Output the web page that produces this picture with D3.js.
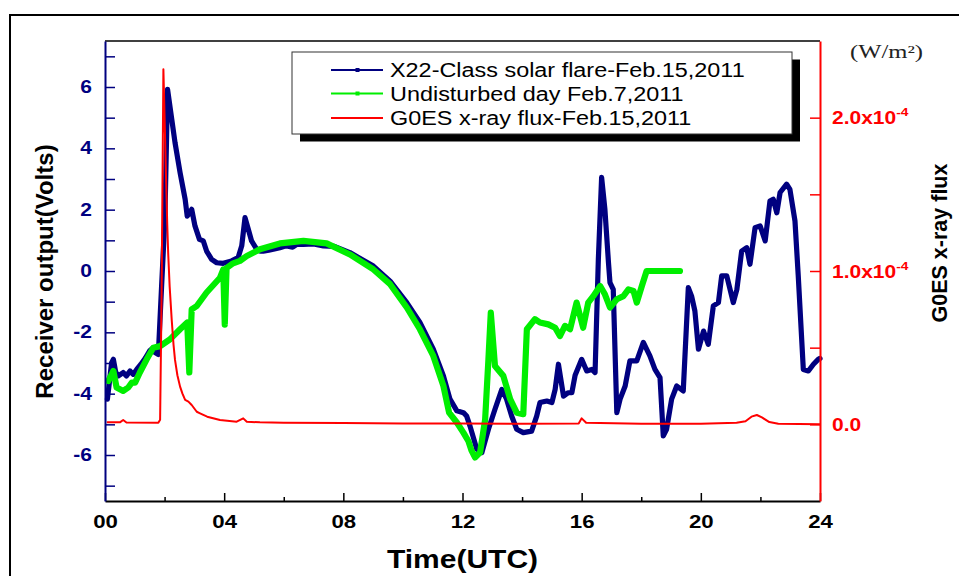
<!DOCTYPE html>
<html>
<head>
<meta charset="utf-8">
<script src="https://cdn.jsdelivr.net/npm/d3@7/dist/d3.min.js"></script>
<style>
  html, body { margin: 0; padding: 0; background: #fff; }
  svg { display: block; }
</style>
</head>
<body>
<svg id="chart" width="959" height="576"></svg>
<script>
// ---------------- DATA ----------------
const blueHours = [0.08,0.15,0.22,0.28,0.36,0.45,0.61,0.72,0.84,0.95,1.07,1.2,1.35,1.5,1.62,1.68,1.79,1.9,2.01,2.1,2.24,2.35,2.52,2.69,2.76,2.91,3.02,3.17,3.30,3.41,3.58,3.75,3.97,4.25,4.47,4.59,4.70,4.81,4.92,5.09,5.2,5.31,5.5,5.65,5.87,6.0,6.1,6.3,6.44,6.66,7.0,7.33,7.7,8.22,9.01,9.57,10.13,10.57,11.02,11.36,11.58,11.81,12.03,12.14,12.25,12.48,12.65,12.87,13.09,13.32,13.48,13.65,13.82,14.04,14.32,14.49,14.60,14.83,15.00,15.11,15.22,15.39,15.55,15.67,15.78,16.00,16.17,16.34,16.45,16.56,16.67,16.78,16.90,16.95,17.06,17.18,17.29,17.46,17.62,17.85,18.07,18.29,18.46,18.63,18.74,18.85,19.02,19.19,19.41,19.58,19.69,19.80,19.92,20.09,20.25,20.42,20.59,20.70,20.87,21.09,21.21,21.37,21.54,21.65,21.82,21.99,22.16,22.32,22.43,22.55,22.66,22.88,22.99,23.16,23.27,23.44,23.61,23.78,23.94,24.0];
const blueVolts = [-4.18,-3.6,-3.0,-2.88,-3.3,-3.42,-3.31,-3.42,-3.26,-3.37,-3.2,-3.05,-2.85,-2.6,-2.5,-2.66,-2.72,-0.49,1.69,5.92,4.95,4.19,3.21,2.34,1.79,2.01,1.47,1.03,0.98,0.65,0.38,0.27,0.25,0.33,0.44,0.82,1.74,1.36,0.98,0.71,0.65,0.65,0.68,0.71,0.76,0.8,0.82,0.78,0.87,0.87,0.88,0.82,0.8,0.6,0.16,-0.33,-1.03,-1.68,-2.55,-3.42,-4.18,-4.56,-4.62,-4.73,-5.05,-5.81,-5.92,-5.16,-4.51,-3.86,-4.18,-4.73,-5.16,-5.27,-5.22,-4.73,-4.29,-4.24,-4.29,-3.86,-3.04,-4.08,-3.97,-3.97,-3.40,-2.88,-3.26,-3.21,-3.31,0.38,3.05,2.01,0.27,-0.38,-0.6,-4.62,-4.18,-3.75,-2.93,-2.93,-2.33,-2.77,-3.21,-3.48,-5.38,-5.16,-4.18,-3.75,-3.91,-0.54,-0.82,-1.30,-2.55,-1.96,-2.39,-1.14,-1.03,-0.16,-0.16,-1.03,-0.6,0.65,0.76,0.22,1.41,1.47,0.98,2.28,2.34,1.90,2.56,2.83,2.66,1.63,-0.16,-3.21,-3.26,-3.04,-2.88,-2.85];

const greenHours = [0.11,0.28,0.39,0.61,0.78,0.9,1.01,1.17,1.4,1.62,1.85,2.18,2.52,2.76,2.83,2.91,3.08,3.41,3.86,3.97,4.02,4.08,4.3,4.53,4.76,5.09,5.2,5.87,6.66,7.44,8.22,9.01,9.57,10.13,10.57,11.02,11.36,11.55,11.81,12.03,12.2,12.3,12.42,12.59,12.76,12.87,12.95,13.09,13.37,13.60,13.82,14.04,14.16,14.43,14.60,14.88,15.11,15.27,15.44,15.61,15.83,16.05,16.22,16.39,16.62,16.78,16.95,17.18,17.40,17.57,17.74,17.85,18.02,18.18,19.30];
const greenVolts = [-3.59,-3.26,-3.8,-3.91,-3.8,-3.64,-3.64,-3.31,-2.88,-2.5,-2.45,-2.23,-1.9,-1.68,-3.31,-1.25,-1.14,-0.7,-0.22,0.05,-1.75,0.1,0.25,0.33,0.49,0.65,0.71,0.9,0.98,0.9,0.54,0.05,-0.43,-1.19,-1.9,-2.77,-3.75,-4.62,-4.94,-5.27,-5.55,-5.85,-6.08,-5.92,-4.84,-2.88,-1.36,-3.1,-3.42,-4.18,-4.62,-4.67,-1.90,-1.57,-1.68,-1.74,-1.85,-2.12,-1.79,-1.90,-1.03,-1.85,-1.03,-0.82,-0.49,-0.76,-1.19,-0.92,-0.82,-0.6,-0.65,-1.03,-0.49,0.0,0.0];

const redHours = [0.06,0.5,0.61,0.72,1.79,1.85,1.90,1.96,2.0,2.05,2.09,2.12,2.17,2.24,2.3,2.35,2.43,2.52,2.6,2.69,2.80,2.91,3.08,3.19,3.43,3.86,4.42,4.64,4.76,5.2,6,8,10,12,14,15.9,16.0,16.15,18,20,21.2,21.5,21.7,21.88,22.05,22.3,22.6,24];
const redFlux = [0.013,0.013,0.028,0.012,0.01,0.03,0.85,2.316,2.0,1.6,1.3,1.12,0.9,0.68,0.52,0.42,0.32,0.246,0.2,0.159,0.148,0.126,0.082,0.072,0.05,0.028,0.017,0.039,0.017,0.013,0.01,0.008,0.006,0.005,0.004,0.006,0.039,0.01,0.004,0.004,0.01,0.02,0.05,0.061,0.045,0.015,0.004,0.0].map(v => v * 1e-4);

const xTickValues = [0,4,8,12,16,20,24];
const xTickLabels = ["00","04","08","12","16","20","24"];
const xMinorTicks = [2,6,10,14,18,22];
const leftTickValues = [-7,-6,-5,-4,-3,-2,-1,0,1,2,3,4,5,6,7];
const leftTickLabels = ["","-6","","-4","","-2","","0","","2","","4","","6",""];
const rightTickValues = [0,0.5e-4,1e-4,1.5e-4,2e-4];
const rightTickLabels = ["0.0","","1.0x10","","2.0x10"];
const rightTickExps = ["","","-4","","-4"];

const seriesNames = ["X22-Class solar flare-Feb.15,2011","Undisturbed day Feb.7,2011","G0ES x-ray flux-Feb.15,2011"];
const seriesColors = ["#000080","#00ee00","#ff0000"];

// ---------------- CHART ----------------
const FONT = "'Liberation Sans', Arial, Helvetica, sans-serif";
const SX = 1.2; // horizontal stretch of the original picture
const svg = d3.select("#chart");

const x = d3.scaleLinear().domain([0,24]).range([105,820]);
const yL = d3.scaleLinear().domain([-7.5,7.5]).range([501,41]);
const yR = d3.scaleLinear().domain([-0.5e-4,2.5e-4]).range([501,41]);

function stretch(sel, sx) {
  sel.each(function() {
    const len = this.getComputedTextLength();
    if (len > 0) {
      d3.select(this).attr("textLength", len * sx).attr("lengthAdjust", "spacingAndGlyphs");
    }
  });
}

// outer frame
svg.append("path").attr("d", "M10,576 L10,15 L959,15")
  .attr("fill", "none").attr("stroke", "#000").attr("stroke-width", 2);

// plot top border
svg.append("line").attr("x1", 105).attr("x2", 820).attr("y1", 41).attr("y2", 41)
  .attr("stroke", "#000").attr("stroke-width", 1.5);

// lines
const lineB = d3.line().x((d,i) => x(blueHours[i])).y(d => yL(d));
const lineG = d3.line().x((d,i) => x(greenHours[i])).y(d => yL(d));
const lineR = d3.line().x((d,i) => x(redHours[i])).y(d => yR(d));

svg.append("path").datum(blueVolts).attr("d", lineB)
  .attr("fill", "none").attr("stroke", seriesColors[0]).attr("stroke-width", 5.2)
  .attr("stroke-linejoin", "round").attr("stroke-linecap", "round");
svg.append("path").datum(greenVolts).attr("d", lineG)
  .attr("fill", "none").attr("stroke", seriesColors[1]).attr("stroke-width", 6.2)
  .attr("stroke-linejoin", "round").attr("stroke-linecap", "round");
svg.append("path").datum(redFlux).attr("d", lineR)
  .attr("fill", "none").attr("stroke", seriesColors[2]).attr("stroke-width", 2)
  .attr("stroke-linejoin", "round");

// x axis
const xAxisMajor = d3.axisBottom(x).tickValues(xTickValues)
  .tickFormat((d,i) => xTickLabels[i]).tickSizeInner(-8).tickSizeOuter(0).tickPadding(14);
const gx = svg.append("g").attr("transform", "translate(0,501)").call(xAxisMajor);
gx.select(".domain").attr("stroke", "#000").attr("stroke-width", 2);
gx.selectAll(".tick line").attr("stroke", "#000").attr("stroke-width", 1.5);
gx.selectAll(".tick text").attr("font-family", FONT).attr("font-size", 18.5)
  .attr("font-weight", "bold").attr("fill", "#000").attr("y", 27).attr("dy", 0);
stretch(gx.selectAll(".tick text"), SX);
const gxm = svg.append("g").attr("transform", "translate(0,501)")
  .call(d3.axisBottom(x).tickValues(xMinorTicks).tickFormat("").tickSizeInner(-4).tickSizeOuter(0));
gxm.select(".domain").remove();
gxm.selectAll(".tick line").attr("stroke", "#000").attr("stroke-width", 1.5);

// left axis
const gl = svg.append("g").attr("transform", "translate(105,0)")
  .call(d3.axisLeft(yL).tickValues(leftTickValues).tickFormat((d,i) => leftTickLabels[i])
    .tickSizeInner(-10).tickSizeOuter(0).tickPadding(23));
gl.select(".domain").attr("stroke", "#000080").attr("stroke-width", 2);
gl.selectAll(".tick line").attr("stroke", "#000080").attr("stroke-width", 1.5);
gl.selectAll(".tick text").attr("font-family", FONT).attr("font-size", 17.5)
  .attr("font-weight", "bold").attr("fill", "#000080").attr("x", -13);
stretch(gl.selectAll(".tick text"), SX);

// right axis
const gr = svg.append("g").attr("transform", "translate(820,0)")
  .call(d3.axisRight(yR).tickValues(rightTickValues).tickFormat("")
    .tickSizeInner(-10).tickSizeOuter(0));
gr.select(".domain").attr("stroke", "#ff0000").attr("stroke-width", 2);
gr.selectAll(".tick line").attr("stroke", "#ff0000").attr("stroke-width", 1.5);
rightTickValues.forEach((v, i) => {
  if (!rightTickLabels[i]) return;
  const g = svg.append("g").attr("transform", `translate(832,${yR(v) + 6.5}) scale(${SX},1)`);
  const t = g.append("text").attr("font-family", FONT).attr("font-weight", "bold")
    .attr("font-size", 17.5).attr("fill", "#ff0000");
  t.append("tspan").text(rightTickLabels[i]);
  if (rightTickExps[i]) {
    t.append("tspan").attr("font-size", 11.5).attr("dy", -8).text(rightTickExps[i]);
  }
});

// axis titles
svg.append("text").attr("transform", "translate(53,271.5) rotate(-90)")
  .attr("text-anchor", "middle").attr("font-family", FONT).attr("font-weight", "bold")
  .attr("font-size", 24).attr("fill", "#000").text("Receiver output(Volts)");
svg.append("text").attr("transform", "translate(947,243) rotate(-90)")
  .attr("text-anchor", "middle").attr("font-family", FONT).attr("font-weight", "bold")
  .attr("font-size", 21.5).attr("fill", "#000").text("G0ES x-ray flux");
const xt = svg.append("text").attr("x", 462.5).attr("y", 568)
  .attr("text-anchor", "middle").attr("font-family", FONT).attr("font-weight", "bold")
  .attr("font-size", 25).attr("fill", "#000").text("Time(UTC)");
stretch(xt, SX);
const unit = svg.append("text").attr("x", 850).attr("y", 58)
  .attr("font-family", "'Liberation Serif', 'DejaVu Serif', serif")
  .attr("font-size", 18).attr("fill", "#222").text("(W/m²)");
unit.attr("textLength", 73).attr("lengthAdjust", "spacingAndGlyphs");

// legend
svg.append("rect").attr("x", 300).attr("y", 59.5).attr("width", 500).attr("height", 82).attr("fill", "#000");
svg.append("rect").attr("x", 292).attr("y", 52).attr("width", 500).attr("height", 82)
  .attr("fill", "#fff").attr("stroke", "#333").attr("stroke-width", 1);
const legY = [70, 93.5, 118];
const legTextY = [77, 100.5, 125];
seriesNames.forEach((name, i) => {
  svg.append("line").attr("x1", 331).attr("x2", 383).attr("y1", legY[i]).attr("y2", legY[i])
    .attr("stroke", seriesColors[i]).attr("stroke-width", 2);
  if (i < 2) {
    svg.append("rect").attr("x", 355.5).attr("y", legY[i] - 2).attr("width", 4).attr("height", 4)
      .attr("fill", seriesColors[i]);
  }
  const t = svg.append("text").attr("x", 390).attr("y", legTextY[i])
    .attr("font-family", FONT).attr("font-size", 19.5).attr("fill", "#000").text(name);
  stretch(t, SX);
});
</script>
</body>
</html>
